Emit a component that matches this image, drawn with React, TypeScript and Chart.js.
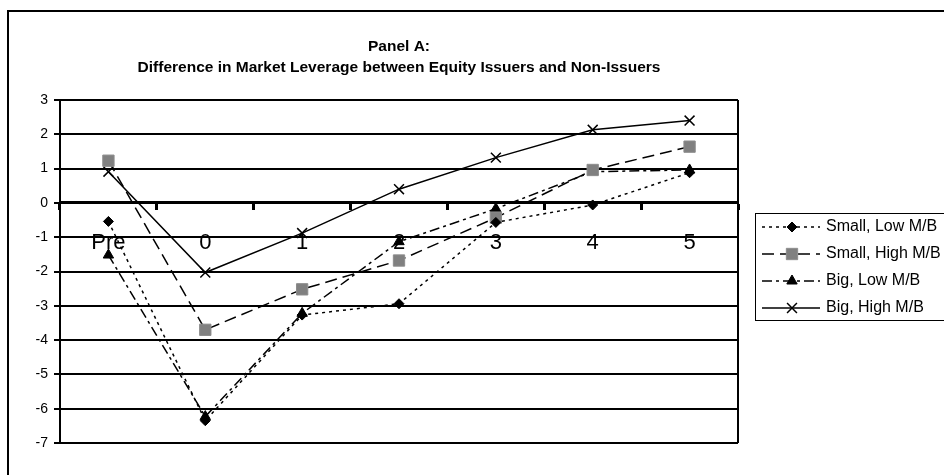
import React, { useEffect, useRef } from "react";
import { Chart, registerables } from "chart.js";

Chart.register(...registerables);

const categories = ["Pre", "0", "1", "2", "3", "4", "5"];
const smallLowMB = [-0.54, -6.35, -3.27, -2.94, -0.57, -0.06, 0.88];
const smallHighMB = [1.23, -3.7, -2.52, -1.68, -0.43, 0.96, 1.64];
const bigLowMB = [-1.52, -6.23, -3.22, -1.13, -0.17, 0.91, 0.96];
const bigHighMB = [0.91, -2.03, -0.88, 0.4, 1.32, 2.13, 2.4];
const seriesNames = ["Small, Low M/B", "Small, High M/B", "Big, Low M/B", "Big, High M/B"];
const titleLines = ["Panel A:", "Difference in Market Leverage between Equity Issuers and Non-Issuers"];

const FONT = "Arial, 'Liberation Sans', sans-serif";

function drawMarker(ctx: CanvasRenderingContext2D, style: string, r: number, x: number, y: number) {
  ctx.beginPath();
  if (style === "rectRot") {
    ctx.moveTo(x - r, y);
    ctx.lineTo(x, y - r);
    ctx.lineTo(x + r, y);
    ctx.lineTo(x, y + r);
    ctx.closePath();
    ctx.fill();
    ctx.stroke();
  } else if (style === "rect") {
    const s = Math.SQRT1_2 * r;
    ctx.rect(x - s, y - s, 2 * s, 2 * s);
    ctx.fill();
    ctx.stroke();
  } else if (style === "triangle") {
    ctx.moveTo(x - r * Math.sin(Math.PI / 3), y + r / 2);
    ctx.lineTo(x, y - r);
    ctx.lineTo(x + r * Math.sin(Math.PI / 3), y + r / 2);
    ctx.closePath();
    ctx.fill();
    ctx.stroke();
  } else if (style === "crossRot") {
    const o = Math.SQRT1_2 * r;
    ctx.moveTo(x - o, y - o);
    ctx.lineTo(x + o, y + o);
    ctx.moveTo(x + o, y - o);
    ctx.lineTo(x - o, y + o);
    ctx.stroke();
  }
}

const decorPlugin = {
  id: "decor",
  beforeDraw(chart: any) {
    const ctx = chart.ctx;
    ctx.save();
    ctx.fillStyle = "#fff";
    ctx.fillRect(0, 0, chart.width, chart.height);
    ctx.strokeStyle = "#000";
    ctx.lineWidth = 2;
    ctx.beginPath();
    ctx.moveTo(8, chart.height + 5);
    ctx.lineTo(8, 11);
    ctx.lineTo(chart.width + 5, 11);
    ctx.stroke();
    ctx.restore();
  },
  afterDatasetsDraw(chart: any) {
    const ctx = chart.ctx;
    const a = chart.chartArea;
    ctx.save();
    ctx.strokeStyle = "#000";
    ctx.lineWidth = 2;
    ctx.beginPath();
    ctx.moveTo(a.right, a.top);
    ctx.lineTo(a.right, a.bottom);
    ctx.stroke();
    // legend
    const lx = 755, ly = 213, lw = 200, lh = 107;
    ctx.lineWidth = 1;
    ctx.strokeStyle = "#000";
    ctx.strokeRect(lx + 0.5, ly + 0.5, lw, lh);
    const rows = [227, 254, 281, 308];
    chart.data.datasets.forEach((ds: any, i: number) => {
      const y = rows[i];
      ctx.save();
      ctx.strokeStyle = "#000";
      ctx.lineWidth = 1.5;
      ctx.setLineDash(ds.borderDash || []);
      ctx.beginPath();
      ctx.moveTo(762, y);
      ctx.lineTo(820, y);
      ctx.stroke();
      ctx.setLineDash([]);
      ctx.fillStyle = ds.pointBackgroundColor;
      ctx.strokeStyle = ds.pointBorderColor;
      ctx.lineWidth = ds.pointBorderWidth || 1;
      drawMarker(ctx, ds.pointStyle, ds.pointRadius, 792, y);
      ctx.restore();
      ctx.fillStyle = "#000";
      ctx.font = "16px " + FONT;
      ctx.textBaseline = "middle";
      ctx.textAlign = "left";
      ctx.fillText(ds.label, 826, y);
    });
    ctx.restore();
  },
};

export default function App() {
  const ref = useRef<HTMLCanvasElement | null>(null);
  useEffect(() => {
    if (!ref.current) return;
    const chart = new Chart(ref.current, {
      type: "line",
      data: {
        labels: categories,
        datasets: [
          {
            label: seriesNames[0],
            data: smallLowMB,
            borderColor: "#000",
            borderWidth: 1.5,
            borderDash: [3, 4],
            pointStyle: "rectRot",
            pointRadius: 5,
            pointBackgroundColor: "#000",
            pointBorderColor: "#000",
            pointBorderWidth: 1,
            tension: 0,
          },
          {
            label: seriesNames[1],
            data: smallHighMB,
            borderColor: "#000",
            borderWidth: 1.5,
            borderDash: [12, 6],
            pointStyle: "rect",
            pointRadius: 8,
            pointBackgroundColor: "#808080",
            pointBorderColor: "#8c8c8c",
            pointBorderWidth: 1,
            tension: 0,
          },
          {
            label: seriesNames[2],
            data: bigLowMB,
            borderColor: "#000",
            borderWidth: 1.5,
            borderDash: [10, 4, 3, 4],
            pointStyle: "triangle",
            pointRadius: 6,
            pointBackgroundColor: "#000",
            pointBorderColor: "#000",
            pointBorderWidth: 1,
            tension: 0,
          },
          {
            label: seriesNames[3],
            data: bigHighMB,
            borderColor: "#000",
            borderWidth: 1.5,
            pointStyle: "crossRot",
            pointRadius: 7,
            pointBackgroundColor: "#000",
            pointBorderColor: "#000",
            pointBorderWidth: 1.5,
            tension: 0,
          },
        ] as any,
      },
      options: {
        responsive: false,
        animation: false,
        layout: { padding: { top: 0, left: 0, right: 206, bottom: 32 } },
        plugins: {
          legend: { display: false },
          tooltip: { enabled: false },
          title: {
            display: true,
            fullSize: false,
            text: titleLines,
            color: "#000",
            font: { family: FONT, size: 15.5, weight: "bold", lineHeight: 21 / 15.5 },
            padding: { top: 36, bottom: 22 },
          },
        },
        scales: {
          x: {
            type: "category",
            position: { y: 0 } as any,
            offset: true,
            grid: {
              display: true,
              offset: true,
              drawOnChartArea: false,
              drawTicks: true,
              tickLength: 6,
              tickWidth: 3,
              tickColor: "#000",
            },
            border: { display: true, color: "#000", width: 3 },
            ticks: {
              color: "#000",
              font: { family: FONT, size: 22 },
              padding: 21,
              maxRotation: 0,
              autoSkip: false,
            },
          },
          y: {
            type: "linear",
            min: -7,
            max: 3,
            afterFit: (s: any) => {
              s.width = 60;
            },
            grid: {
              color: "#000",
              lineWidth: 2,
              drawTicks: true,
              tickLength: 6,
              tickColor: "#000",
            },
            border: { display: true, color: "#000", width: 2 },
            ticks: {
              stepSize: 1,
              color: "#000",
              padding: 6,
              font: { family: FONT, size: 14 },
            },
          },
        },
      },
      plugins: [decorPlugin],
    });
    return () => chart.destroy();
  }, []);
  return (
    <div style={{ position: "absolute", left: 0, top: 0, width: 944, height: 475 }}>
      <canvas ref={ref} width={944} height={475} style={{ display: "block" }} />
    </div>
  );
}
